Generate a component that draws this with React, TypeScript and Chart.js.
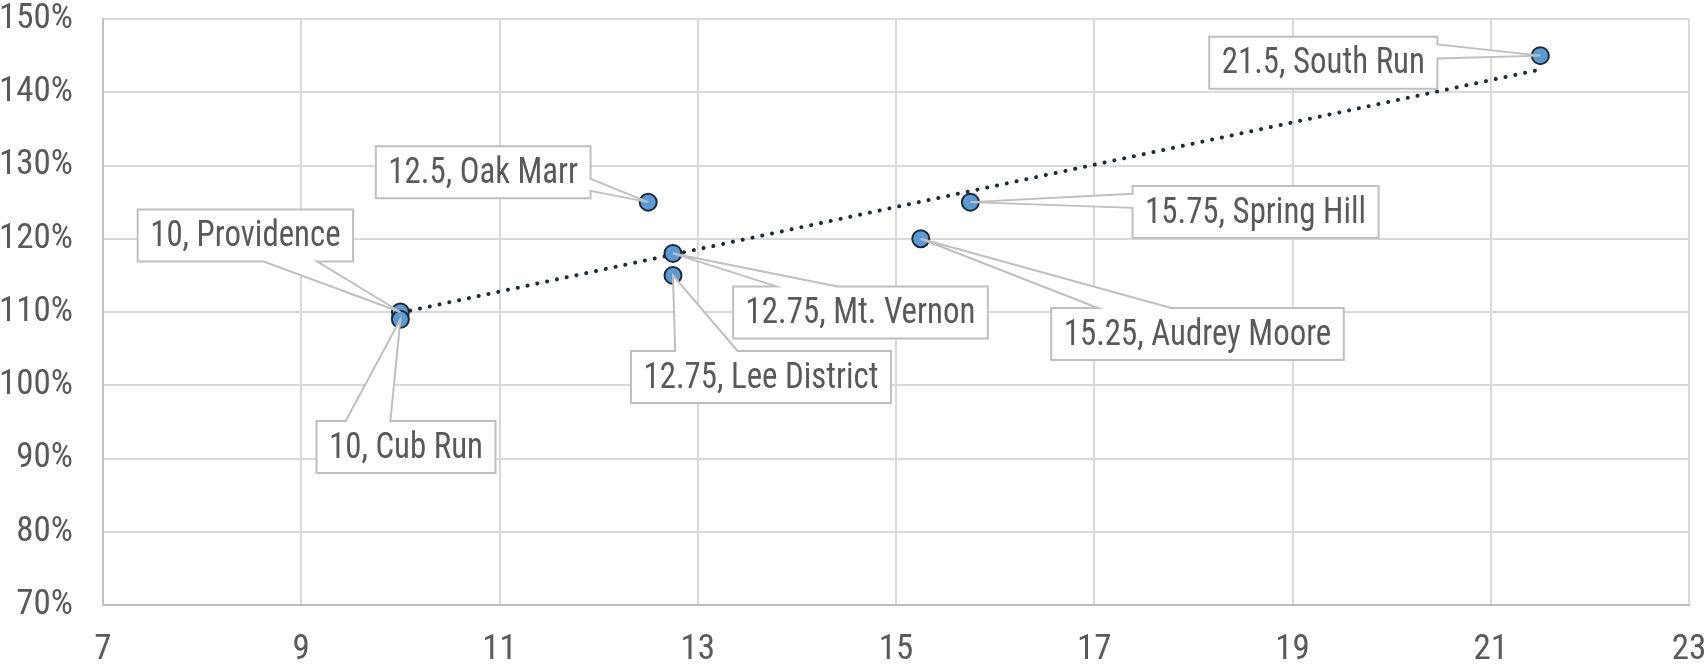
import React, { useEffect, useRef } from "react";
import { Chart, registerables } from "chart.js";

Chart.register(...registerables);

// ---- data ----
const siteNames = ["Providence", "Cub Run", "Oak Marr", "Mt. Vernon", "Lee District", "Audrey Moore", "Spring Hill", "South Run"];
const hoursValues = [10, 10, 12.5, 12.75, 12.75, 15.25, 15.75, 21.5];
const utilizationValues = [110, 109, 125, 118, 115, 120, 125, 145];
const trendX = [10, 21.5];
const trendY = [109.9, 143.1];
const xAxisRange = [7, 23];
const xAxisStep = 2;
const yAxisRange = [70, 150];
const yAxisStep = 10;

// ---- callout styling / placement (offset of box centre from its point, pointer side + fractions) ----
const calloutLayout = [
  { dx: -155, dy: -76.5, side: "bottom", f: [0.585, 0.834] },
  { dx: 5.6, dy: 127.7, side: "top", f: [0.163, 0.413] },
  { dx: -165, dy: -30, side: "right", f: [0.63, 0.86] },
  { dx: 187.5, dy: 59, side: "top", f: [0.17, 0.41] },
  { dx: 88, dy: 101.6, side: "top", f: [0.17, 0.41] },
  { dx: 276.7, dy: 95.3, side: "top", f: [0.16, 0.41] },
  { dx: 285.2, dy: 9.9, side: "left", f: [0.15, 0.42] },
  { dx: -217, dy: 7, side: "right", f: [0.15, 0.42] },
];

const FONT_FAMILY = '"Roboto Condensed", Roboto, sans-serif';
const TEXT_COLOR = "#595959";
const CALLOUT_FONT_SIZE = 36.5;
const CALLOUT_SAMPLE = "12.75, Lee District";
const CALLOUT_SAMPLE_WIDTH = 235;

function calloutPath(ctx: CanvasRenderingContext2D, l: number, t: number, w: number, h: number, side: string, f: number[], tx: number, ty: number) {
  const r = l + w;
  const b = t + h;
  ctx.beginPath();
  ctx.moveTo(l, t);
  if (side === "top") {
    ctx.lineTo(l + w * f[0], t);
    ctx.lineTo(tx, ty);
    ctx.lineTo(l + w * f[1], t);
  }
  ctx.lineTo(r, t);
  if (side === "right") {
    ctx.lineTo(r, t + h * f[0]);
    ctx.lineTo(tx, ty);
    ctx.lineTo(r, t + h * f[1]);
  }
  ctx.lineTo(r, b);
  if (side === "bottom") {
    ctx.lineTo(l + w * f[1], b);
    ctx.lineTo(tx, ty);
    ctx.lineTo(l + w * f[0], b);
  }
  ctx.lineTo(l, b);
  if (side === "left") {
    ctx.lineTo(l, t + h * f[1]);
    ctx.lineTo(tx, ty);
    ctx.lineTo(l, t + h * f[0]);
  }
  ctx.closePath();
}

const calloutPlugin = {
  id: "callouts",
  afterDatasetsDraw(chart: any) {
    const ctx: CanvasRenderingContext2D = chart.ctx;
    const xs = chart.scales.x;
    const ys = chart.scales.y;
    ctx.save();
    ctx.font = `${CALLOUT_FONT_SIZE}px ${FONT_FAMILY}`;
    const sx = Math.min(1, CALLOUT_SAMPLE_WIDTH / ctx.measureText(CALLOUT_SAMPLE).width);
    for (let i = 0; i < siteNames.length; i++) {
      const px = xs.getPixelForValue(hoursValues[i]);
      const py = ys.getPixelForValue(utilizationValues[i]);
      const lay = calloutLayout[i];
      const text = `${hoursValues[i]}, ${siteNames[i]}`;
      const tw = ctx.measureText(text).width * sx;
      const w = tw + 25;
      const h = 52;
      const cx = px + lay.dx;
      const cy = py + lay.dy;
      const l = cx - w / 2;
      const t = cy - h / 2;
      calloutPath(ctx, l, t, w, h, lay.side, lay.f, px, py);
      ctx.fillStyle = "#ffffff";
      ctx.fill();
      ctx.strokeStyle = "#bfbfbf";
      ctx.lineWidth = 2;
      ctx.lineJoin = "miter";
      ctx.stroke();
      ctx.save();
      ctx.translate(cx, cy + 1.5);
      ctx.scale(sx, 1);
      ctx.fillStyle = TEXT_COLOR;
      ctx.textAlign = "center";
      ctx.textBaseline = "middle";
      ctx.fillText(text, 0, 0);
      ctx.restore();
    }
    ctx.restore();
  },
};

export default function App() {
  const canvasRef = useRef<HTMLCanvasElement | null>(null);

  useEffect(() => {
    document.body.style.margin = "0";
    const canvas = canvasRef.current;
    if (!canvas) return;
    const chart = new Chart(canvas, {
      type: "scatter",
      data: {
        datasets: [
          {
            label: "Sites",
            data: hoursValues.map((x, i) => ({ x, y: utilizationValues[i] })),
            pointRadius: 8.5,
            pointHoverRadius: 8.5,
            pointBackgroundColor: "#5b9bd5",
            pointBorderColor: "#1e2a38",
            pointBorderWidth: 2,
            showLine: false,
          },
          {
            label: "Trend",
            type: "line",
            data: trendX.map((x, i) => ({ x, y: trendY[i] })),
            borderColor: "#1f2a38",
            borderWidth: 4,
            borderDash: [0.1, 9.9],
            borderCapStyle: "round",
            pointRadius: 0,
            fill: false,
            tension: 0,
          } as any,
        ],
      },
      options: {
        animation: false,
        responsive: false,
        maintainAspectRatio: false,
        layout: { padding: { top: 19, right: 16, bottom: 0, left: 0 } },
        plugins: {
          legend: { display: false },
          tooltip: { enabled: false },
        },
        scales: {
          x: {
            type: "linear",
            min: xAxisRange[0],
            max: xAxisRange[1],
            ticks: {
              stepSize: xAxisStep,
              color: TEXT_COLOR,
              font: { family: FONT_FAMILY, size: 35, lineHeight: 1 },
              padding: 0,
            },
            grid: { color: "#d9d9d9", lineWidth: 2, drawTicks: true, tickLength: 28, tickColor: "rgba(0,0,0,0)" },
            border: { color: "#bfbfbf", width: 2 },
            afterFit: (scale: any) => {
              scale.height = 61;
              scale.paddingLeft = 0;
              scale.paddingRight = 0;
            },
          },
          y: {
            type: "linear",
            min: yAxisRange[0],
            max: yAxisRange[1],
            ticks: {
              stepSize: yAxisStep,
              color: TEXT_COLOR,
              font: { family: FONT_FAMILY, size: 35, lineHeight: 1 },
              padding: 0,
              callback: (v: any) => `${v}%`,
            },
            grid: { color: "#d9d9d9", lineWidth: 2, drawTicks: true, tickLength: 30, tickColor: "rgba(0,0,0,0)" },
            border: { color: "#bfbfbf", width: 2 },
            afterFit: (scale: any) => {
              scale.width = 103;
              scale.paddingTop = 0;
              scale.paddingBottom = 0;
            },
          },
        },
      },
      plugins: [calloutPlugin],
    });
    return () => chart.destroy();
  }, []);

  return (
    <div style={{ width: 1705, height: 666 }}>
      <canvas ref={canvasRef} width={1705} height={666} style={{ display: "block", width: 1705, height: 666 }} />
    </div>
  );
}
